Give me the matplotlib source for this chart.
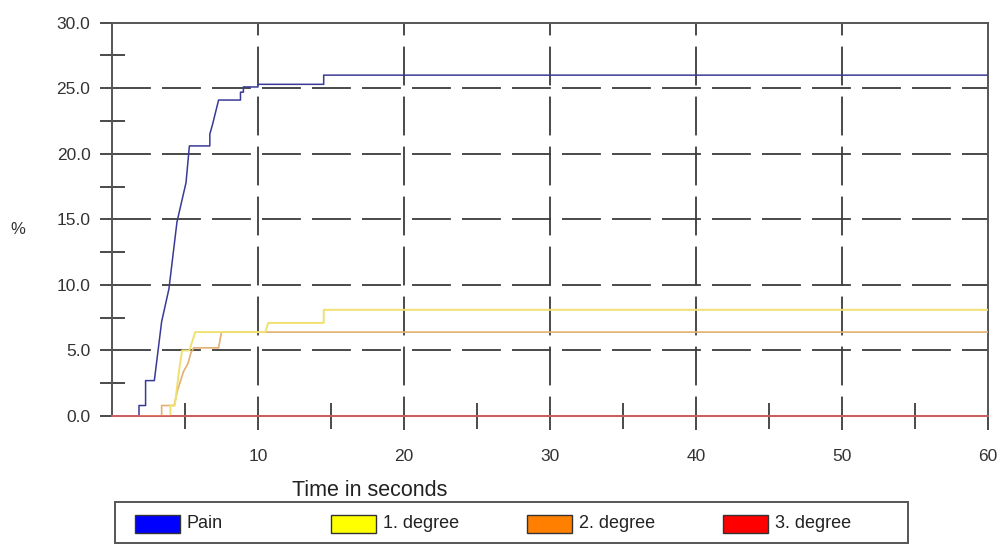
import matplotlib
matplotlib.use('Agg')
import matplotlib.pyplot as plt
from matplotlib.patches import Rectangle

plt.rcParams['font.family'] = ['Liberation Sans', 'DejaVu Sans']
plt.rcParams['lines.scale_dashes'] = False

# data (time in s, percent)
pain_t = [0, 1.85, 1.85, 2.3, 2.3, 2.9, 3.4, 3.9, 4.45, 5.07, 5.3, 6.7, 6.7, 6.9, 7.1, 7.3,
          7.5, 8.8, 8.8, 9.0, 9.0, 10.0, 10.0, 14.5, 14.5, 60]
pain_v = [0, 0, 0.8, 0.8, 2.7, 2.7, 7.2, 9.7, 14.8, 17.8, 20.6, 20.6, 21.5, 22.3, 23.2, 24.1,
          24.1, 24.1, 24.7, 24.7, 25.1, 25.1, 25.3, 25.3, 26.0, 26.0]
deg1_t = [0, 4.0, 4.0, 4.3, 4.6, 4.8, 5.3, 5.7, 10.5, 10.7, 14.5, 14.5, 60]
deg1_v = [0, 0, 0.8, 0.8, 3.5, 5.0, 5.0, 6.4, 6.4, 7.1, 7.1, 8.1, 8.1]
deg2_t = [0, 3.4, 3.4, 4.25, 4.5, 4.7, 4.9, 5.2, 5.4, 5.6, 7.3, 7.5, 60]
deg2_v = [0, 0, 0.8, 0.8, 2.0, 2.7, 3.4, 4.0, 4.8, 5.2, 5.2, 6.4, 6.4]
deg3_t = [0, 60]
deg3_v = [0, 0]

series_names = ['Pain', '1. degree', '2. degree', '3. degree']
legend_colors = ['#0000ff', '#ffff00', '#ff8000', '#ff0000']
line_colors = ['#3a3a96', '#f0e070', '#e2b070', '#e06060']

x_major = [10, 20, 30, 40, 50, 60]
x_minor = [5, 15, 25, 35, 45, 55]
y_major = [0, 5, 10, 15, 20, 25, 30]
y_minor = [2.5, 7.5, 12.5, 17.5, 22.5, 27.5]

W, H = 999, 544
fig = plt.figure(figsize=(W / 100, H / 100), dpi=100)
ax = fig.add_axes([112 / W, 1 - 416 / H, 876 / W, (416 - 22.7) / H])

gc = '#3c3c3c'
for y in y_major[1:-1]:
    ax.axhline(y, color=gc, lw=1.3, linestyle=(0, (28, 8)), zorder=1)
for x in x_major[:-1]:
    ax.axvline(x, color=gc, lw=1.3, linestyle=(14, (28, 8)), zorder=1)

ax.plot(deg3_t, deg3_v, color=line_colors[3], lw=1.2, zorder=5, clip_on=False)
ax.plot(deg2_t, deg2_v, color=line_colors[2], lw=1.2, zorder=3)
ax.plot(deg1_t, deg1_v, color=line_colors[1], lw=1.4, zorder=3)
ax.plot(pain_t, pain_v, color=line_colors[0], lw=1.1, zorder=4)

ax.set_xlim(0, 60)
ax.set_ylim(0, 30)
ax.set_xticks(x_major)
ax.set_xticks(x_minor, minor=True)
ax.set_yticks(y_major)
ax.set_yticks(y_minor, minor=True)
ax.set_xticklabels([str(v) for v in x_major])
ax.set_yticklabels(['%.1f' % v for v in y_major])

ax.tick_params(axis='x', which='major', direction='out', length=10, width=1.3,
               color=gc, pad=14, labelsize=12.5, labelcolor='#333333')
ax.tick_params(axis='x', which='minor', direction='inout', length=19, width=1.3, color=gc)
ax.tick_params(axis='y', which='major', direction='out', length=8.5, width=1.3,
               color=gc, pad=7, labelsize=12.5, labelcolor='#333333')
ax.tick_params(axis='y', which='minor', direction='inout', length=18, width=1.3, color=gc)

for s in ax.spines.values():
    s.set_color('#555555')
    s.set_linewidth(1.4)

fig.text(18 / W, 1 - 230 / H, '%', fontsize=12, ha='center', va='center', color='#333333')
fig.text(370 / W, 1 - 491 / H, 'Time in seconds', fontsize=15.5, ha='center', va='center',
         color='#222222')

# legend box along the bottom, entries evenly spaced like the original
fig.patches.append(Rectangle((115 / W, 1 / H), (908 - 115) / W, 41 / H, transform=fig.transFigure,
                             facecolor='white', edgecolor='#555555', lw=1.4))
for i, (name, c) in enumerate(zip(series_names, legend_colors)):
    x0 = 135 + i * 196
    fig.patches.append(Rectangle((x0 / W, 1 - 533 / H), 45 / W, 18 / H, transform=fig.transFigure,
                                 facecolor=c, edgecolor='#333333', lw=1))
    fig.text((x0 + 52) / W, 1 - 524 / H, name, fontsize=13, ha='left', va='center',
             color='#222222')

fig.savefig('out.png', dpi=100)
